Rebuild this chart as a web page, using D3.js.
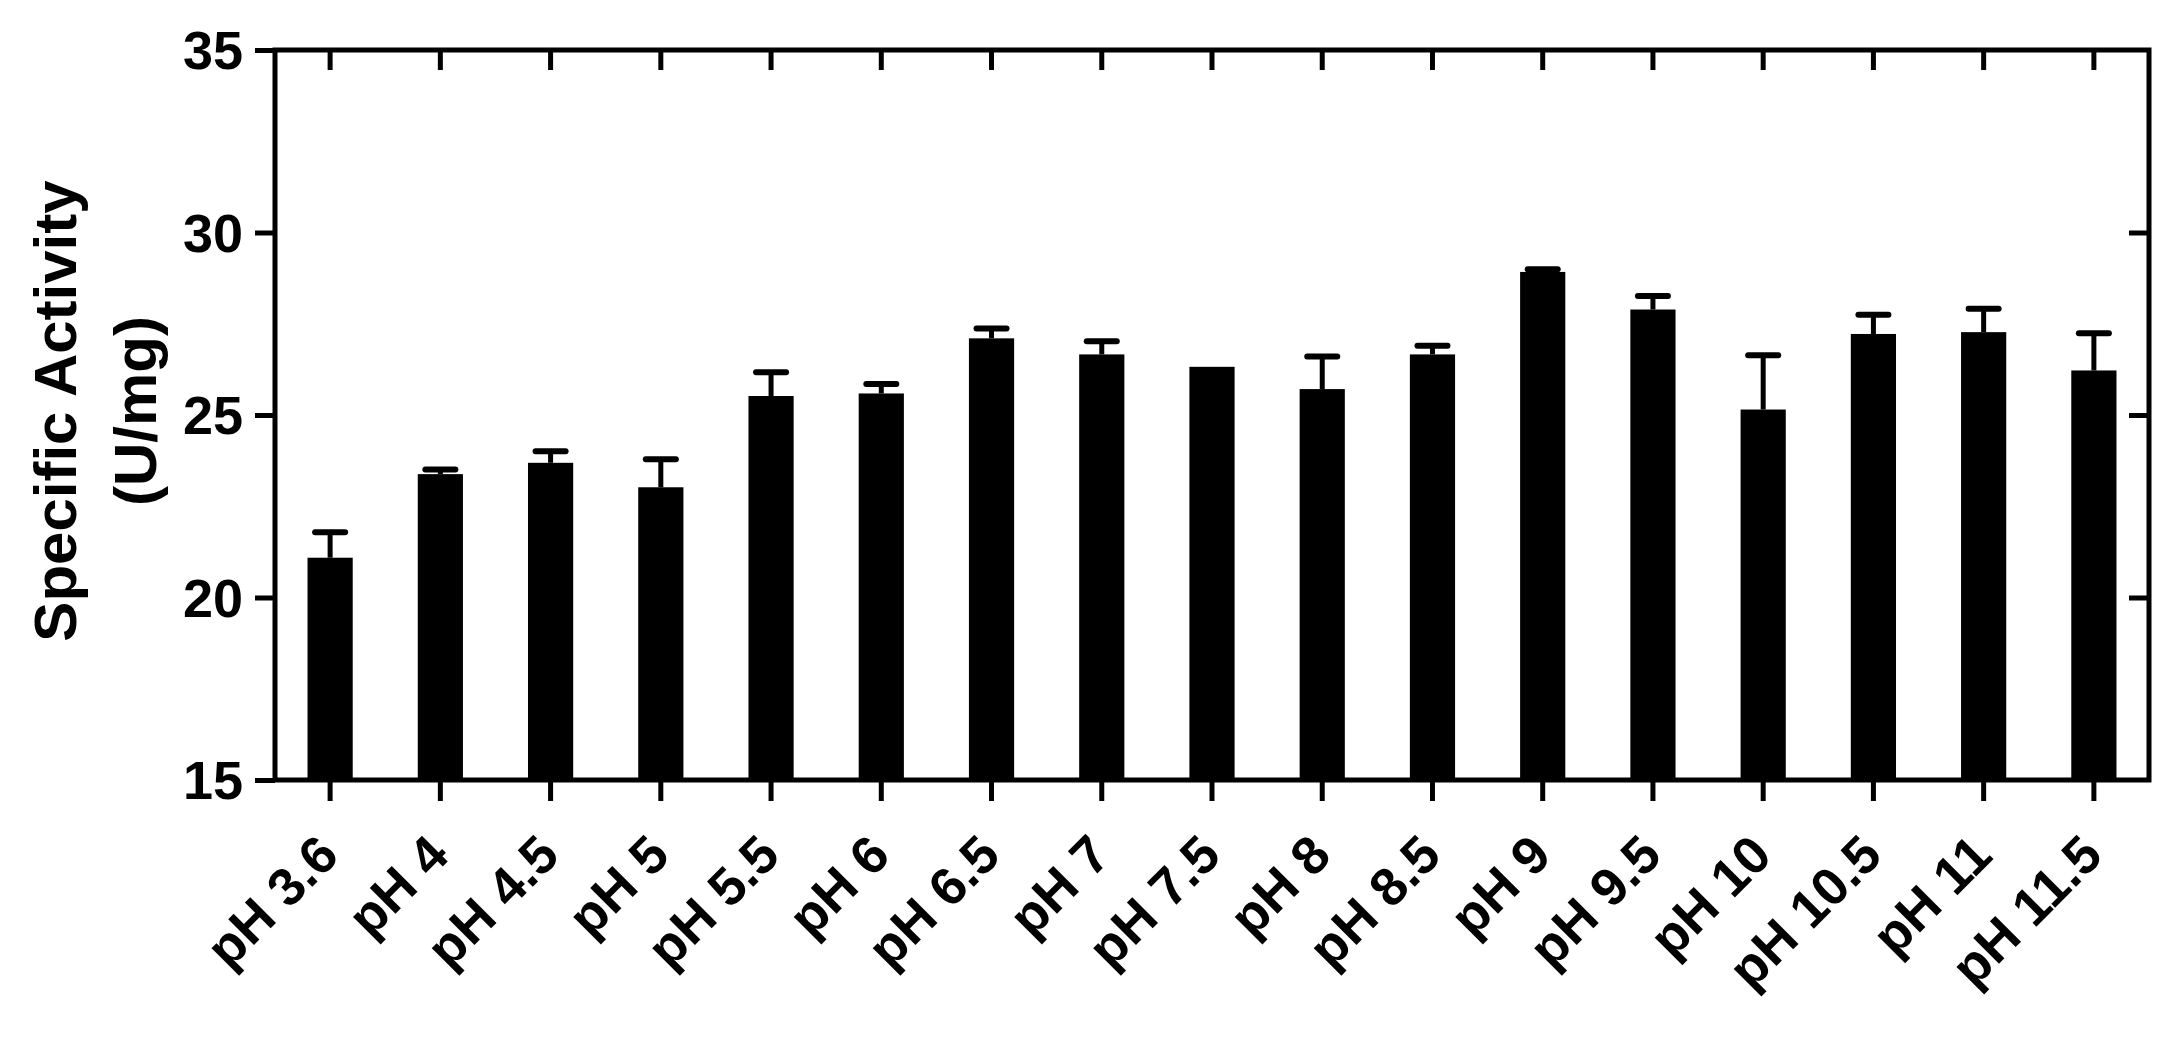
<!DOCTYPE html>
<html>
<head>
<meta charset="utf-8">
<script src="https://cdn.jsdelivr.net/npm/d3@7"></script>
<style>
  body { margin: 0; background: #fff; }
  svg { display: block; }
  text { font-family: Arial, "Liberation Sans", sans-serif; font-weight: bold; fill: #000; }
</style>
</head>
<body>
<div id="chart"></div>
<script>
// values
const categories = ['pH 3.6', 'pH 4', 'pH 4.5', 'pH 5', 'pH 5.5', 'pH 6', 'pH 6.5', 'pH 7', 'pH 7.5',
  'pH 8', 'pH 8.5', 'pH 9', 'pH 9.5', 'pH 10', 'pH 10.5', 'pH 11', 'pH 11.5'];
const activity = [21.09, 23.38, 23.69, 23.02, 25.52, 25.59, 27.10, 26.66, 26.32,
  25.71, 26.66, 28.92, 27.89, 25.15, 27.22, 27.27, 26.22];
const errors = [0.70, 0.13, 0.32, 0.77, 0.65, 0.26, 0.27, 0.36, 0.0,
  0.89, 0.24, 0.07, 0.37, 1.49, 0.53, 0.64, 1.02];
const yTicks = [15, 20, 25, 30, 35];
const yLabel = ['Specific Activity', '(U/mg)'];

const data = categories.map((c, i) => ({ cat: c, value: activity[i], err: errors[i] }));

const width = 2176;
const height = 1040;
const margin = { top: 50, right: 27, bottom: 260, left: 275 };
const stroke = 5;

const svg = d3.select('#chart')
  .append('svg')
  .attr('width', width)
  .attr('height', height);

const usable = {
  left: margin.left,
  right: width - margin.right,
  top: margin.top,
  bottom: height - margin.bottom,
};

const x = d3.scaleBand()
  .domain(categories)
  .range([usable.left, usable.right])
  .paddingInner(0.59)
  .paddingOuter(0.295);

const y = d3.scaleLinear().domain([15, 35]).range([usable.bottom, usable.top]);

// bars
svg.append('g')
  .selectAll('rect')
  .data(data)
  .join('rect')
  .attr('x', d => x(d.cat))
  .attr('y', d => y(d.value))
  .attr('width', x.bandwidth())
  .attr('height', d => y(15) - y(d.value))
  .attr('fill', '#000');

// error bars (upper only)
const errG = svg.append('g')
  .attr('stroke', '#000')
  .attr('stroke-width', stroke);

errG.selectAll('line.stem')
  .data(data.filter(d => d.err > 0))
  .join('line')
  .attr('class', 'stem')
  .attr('x1', d => x(d.cat) + x.bandwidth() / 2)
  .attr('x2', d => x(d.cat) + x.bandwidth() / 2)
  .attr('y1', d => y(d.value))
  .attr('y2', d => y(d.value + d.err));

errG.selectAll('line.cap')
  .data(data.filter(d => d.err > 0))
  .join('line')
  .attr('class', 'cap')
  .attr('stroke-width', 6)
  .attr('stroke-linecap', 'round')
  .attr('x1', d => x(d.cat) + x.bandwidth() / 2 - 15)
  .attr('x2', d => x(d.cat) + x.bandwidth() / 2 + 15)
  .attr('y1', d => y(d.value + d.err))
  .attr('y2', d => y(d.value + d.err));

// frame
svg.append('rect')
  .attr('x', usable.left)
  .attr('y', usable.top)
  .attr('width', usable.right - usable.left)
  .attr('height', usable.bottom - usable.top)
  .attr('fill', 'none')
  .attr('stroke', '#000')
  .attr('stroke-width', stroke);

function styleAxis(g) {
  g.select('.domain').remove();
  g.selectAll('.tick line').attr('stroke', '#000').attr('stroke-width', stroke);
  g.attr('font-family', null).attr('font-size', null);
}

// left axis
svg.append('g')
  .attr('transform', `translate(${usable.left},0)`)
  .call(d3.axisLeft(y).tickValues(yTicks).tickSize(20).tickPadding(12))
  .call(styleAxis)
  .selectAll('text')
  .attr('font-size', 54)
  .attr('dy', '0.35em');

// right axis, ticks inward
svg.append('g')
  .attr('transform', `translate(${usable.right},0)`)
  .call(d3.axisLeft(y).tickValues([20, 25, 30]).tickSize(20).tickFormat(''))
  .call(styleAxis);

// top axis, ticks inward
svg.append('g')
  .attr('transform', `translate(0,${usable.top})`)
  .call(d3.axisBottom(x).tickSize(20).tickFormat(''))
  .call(styleAxis);

// bottom axis with rotated labels
svg.append('g')
  .attr('transform', `translate(0,${usable.bottom})`)
  .call(d3.axisBottom(x).tickSize(21))
  .call(styleAxis)
  .selectAll('text')
  .attr('font-size', 53)
  .attr('text-anchor', 'end')
  .attr('x', 0)
  .attr('y', 0)
  .attr('dy', 0)
  .attr('transform', 'translate(11,78) rotate(-45)');

// y axis title
const yt = svg.append('text')
  .attr('font-size', 60)
  .attr('text-anchor', 'middle')
  .attr('transform', `translate(76,${(usable.top + usable.bottom) / 2 - 4}) rotate(-90)`);

yt.selectAll('tspan')
  .data(yLabel)
  .join('tspan')
  .attr('x', 0)
  .attr('y', (d, i) => i * 80)
  .text(d => d);
</script>
</body>
</html>
